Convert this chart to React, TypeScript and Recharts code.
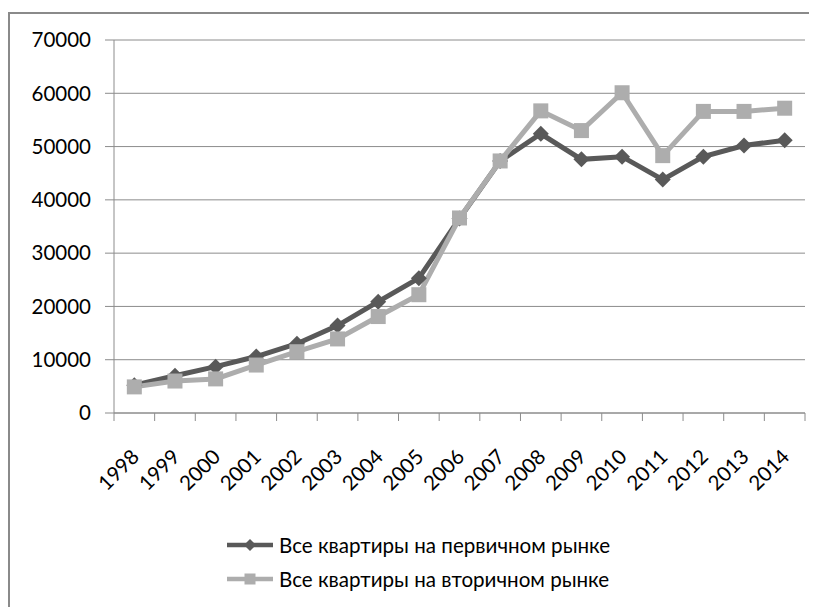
import React from 'react';
import {CartesianGrid, Legend, Line, LineChart, XAxis, YAxis} from 'recharts';

// price per sq. m, roubles
const years = ['1998', '1999', '2000', '2001', '2002', '2003', '2004', '2005', '2006', '2007', '2008', '2009', '2010', '2011', '2012', '2013', '2014'];
const primaryMarket = [5200, 7000, 8700, 10600, 13000, 16400, 20900, 25300, 36500, 47300, 52400, 47600, 48100, 43800, 48100, 50200, 51200];
const secondaryMarket = [4900, 6000, 6400, 9000, 11500, 13900, 18100, 22200, 36600, 47300, 56700, 53000, 60100, 48300, 56600, 56600, 57200];
const yTicks = [0, 10000, 20000, 30000, 40000, 50000, 60000, 70000];
const seriesNames = ['Все квартиры на первичном рынке', 'Все квартиры на вторичном рынке'];

const DARK = '#595959';
const LIGHT = '#adadad';
const GRID = '#8c8c8c';
const TEXT = '#000';
const FONT = 'Lato, "Open Sans", sans-serif';

const W = 807;
const H = 593;
const LEFT = 104;
const RIGHT = 12;
const band = (W - LEFT - RIGHT) / years.length;

const data = years.map((year, i) => ({year, primary: primaryMarket[i], secondary: secondaryMarket[i]}));

const YearTick = (props: any) => {
    const {x, y, payload} = props;
    const last = payload.value === years[years.length - 1];
    return (
        <g>
            <line x1={x - band / 2} y1={y} x2={x - band / 2} y2={y + 8} stroke={GRID}/>
            {last && <line x1={x + band / 2} y1={y} x2={x + band / 2} y2={y + 8} stroke={GRID}/>}
            <text transform={`translate(${x + 1},${y + 40}) rotate(-45)`} textAnchor="end" dy="0.35em"
                  fontSize={20.5} fill={TEXT} fontFamily={FONT}>{payload.value}</text>
        </g>
    );
};

const Diamond = (props: any) => {
    const {cx, cy, r = 8, fill} = props;
    return <polygon points={`${cx},${cy - r} ${cx + r},${cy} ${cx},${cy + r} ${cx - r},${cy}`} fill={fill}/>;
};

const Square = (props: any) => {
    const {cx, cy, s = 15, fill} = props;
    return <rect x={cx - s / 2} y={cy - s / 2} width={s} height={s} fill={fill}/>;
};

const LegendBox = () => (
    <div style={{fontFamily: FONT, fontSize: 20.6, color: TEXT}}>
        {seriesNames.map((name, i) => (
            <div key={name} style={{display: 'flex', alignItems: 'center', height: 34}}>
                <svg width={48} height={20} style={{marginRight: 4}}>
                    <line x1={0} y1={10} x2={46} y2={10} stroke={i === 0 ? DARK : LIGHT} strokeWidth={4.5}/>
                    {i === 0
                        ? <Diamond cx={23} cy={10} r={6} fill={DARK}/>
                        : <Square cx={23} cy={10} s={11} fill={LIGHT}/>}
                </svg>
                <span>{name}</span>
            </div>
        ))}
    </div>
);

export default function App() {
    return (
        <div style={{
            marginTop: 4, width: 809, height: 595, boxSizing: 'border-box',
            borderTop: '2px solid #8a8a8a', borderLeft: '2px solid #8a8a8a'
        }}>
            <LineChart width={W} height={H} data={data}
                       margin={{top: 26, right: RIGHT, left: 0, bottom: 0}}>
                <CartesianGrid vertical={false} stroke={GRID}/>
                <XAxis dataKey="year" height={194} interval={0}
                       padding={{left: band / 2, right: band / 2}}
                       tickLine={false} tickSize={0} tickMargin={0}
                       axisLine={{stroke: GRID}} tick={<YearTick/>}/>
                <YAxis width={LEFT} domain={[0, 70000]} ticks={yTicks} interval={0}
                       tickSize={9} tickMargin={14}
                       axisLine={{stroke: GRID}} tickLine={{stroke: GRID}}
                       tick={{fontSize: 20.5, fill: TEXT, fontFamily: FONT}}/>
                <Legend layout="vertical" align="center" verticalAlign="middle"
                        wrapperStyle={{left: 217, top: 514, width: 440}}
                        content={<LegendBox/>}/>
                <Line dataKey="primary" name={seriesNames[0]} stroke={DARK} strokeWidth={5}
                      isAnimationActive={false} activeDot={false}
                      dot={(p: any) => <Diamond key={`p-${p.index}`} cx={p.cx} cy={p.cy} fill={DARK}/>}/>
                <Line dataKey="secondary" name={seriesNames[1]} stroke={LIGHT} strokeWidth={5}
                      isAnimationActive={false} activeDot={false}
                      dot={(p: any) => <Square key={`s-${p.index}`} cx={p.cx} cy={p.cy} fill={LIGHT}/>}/>
            </LineChart>
        </div>
    );
}
